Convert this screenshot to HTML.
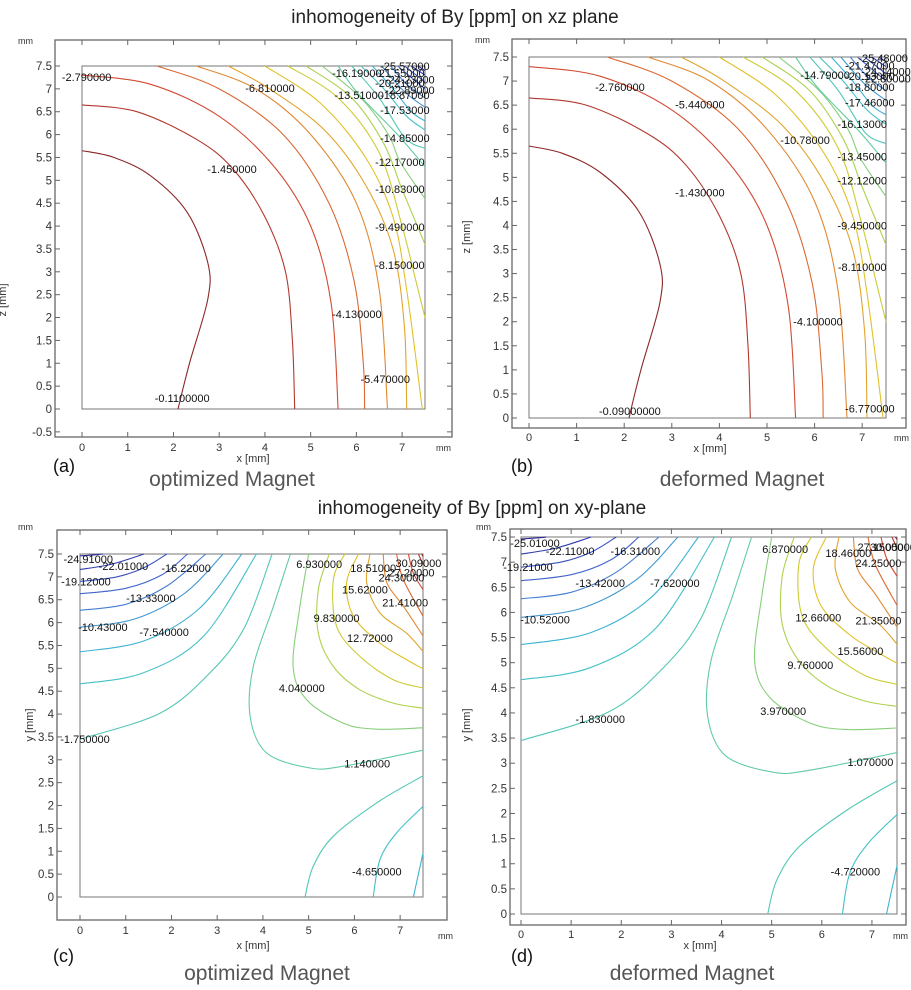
<!DOCTYPE html>
<html><head><meta charset="utf-8">
<style>
html,body{margin:0;padding:0;background:#fff;}
svg{display:block;font-family:"Liberation Sans",sans-serif;}
</style></head>
<body>
<svg id="fig" width="911" height="990" viewBox="0 0 911 990" xmlns="http://www.w3.org/2000/svg">
<text x="455" y="23" text-anchor="middle" font-size="19" fill="#222">inhomogeneity of By [ppm] on xz plane</text>
<text x="482" y="514" text-anchor="middle" font-size="19" fill="#222">inhomogeneity of By [ppm] on xy-plane</text>
<text x="53" y="472" font-size="18" fill="#111">(a)</text>
<text x="232" y="486" text-anchor="middle" font-size="21" fill="#555">optimized Magnet</text>
<text x="511" y="472" font-size="18" fill="#111">(b)</text>
<text x="742" y="486" text-anchor="middle" font-size="21" fill="#555">deformed Magnet</text>
<text x="53" y="962" font-size="18" fill="#111">(c)</text>
<text x="267" y="980" text-anchor="middle" font-size="21" fill="#555">optimized Magnet</text>
<text x="511" y="962" font-size="18" fill="#111">(d)</text>
<text x="692" y="980" text-anchor="middle" font-size="21" fill="#555">deformed Magnet</text>
</svg>
<script>
// ---------- data: xz plane (a) ----------
const levelsA = [-0.11,-1.45,-2.79,-4.13,-5.47,-6.81,-8.15,-9.49,-10.83,-12.17,-13.51,-14.85,-16.19,-17.53,-18.87,-20.21,-21.55,-22.89,-24.23,-25.57];
const contoursA = [
 [[0,5.65],[0.7,5.5],[1.5,5.1],[2.3,4.3],[2.75,3.2],[2.75,2.4],[2.35,1],[2.1,0]],
 [[0,6.65],[1.2,6.5],[2.5,5.9],[3.3,5.25],[4.0,4.2],[4.45,3],[4.6,1.5],[4.65,0]],
 [[0,7.3],[1.5,7.1],[3,6.4],[4.2,5.3],[5,4],[5.45,2.3],[5.6,0]],
 [[1.64,7.5],[3,7],[4.4,6],[5.4,4.5],[5.95,2.8],[6.15,1],[6.18,0]],
 [[2.5,7.5],[3.8,7.0],[5.0,6.0],[6.0,4.5],[6.5,2.6],[6.68,0]],
 [[3.2,7.5],[4.1,7.0],[5.3,6.1],[6.2,4.9],[6.8,3.5],[7.05,1.8],[7.1,0]],
 [[4.0,7.5],[5.2,6.7],[6.2,5.5],[6.8,4.2],[7.1,2.6],[7.44,0]],
 [[4.5,7.5],[5.6,6.8],[6.5,5.6],[7.0,4.0],[7.3,2.8],[7.5,2.0]],
 [[4.9,7.5],[5.9,6.8],[6.6,5.8],[7.0,4.8],[7.5,3.6]],
 [[5.25,7.5],[6.1,6.8],[6.7,6.0],[6.96,5.4],[7.5,4.6]],
 [[5.6,7.5],[6.06,6.87],[6.9,6.0],[7.5,5.3]],
 [[5.9,7.5],[6.5,6.8],[7.06,5.93],[7.5,5.7]],
 [[6.1,7.5],[6.6,7.0],[7.1,6.4],[7.5,6.1]],
 [[6.35,7.5],[6.8,7.0],[7.2,6.5],[7.5,6.3]],
 [[6.55,7.5],[7.06,6.93],[7.5,6.6]],
 [[6.75,7.5],[7.1,7.1],[7.5,6.8]],
 [[6.9,7.5],[7.5,7.0]],
 [[7.05,7.5],[7.5,7.15]],
 [[7.2,7.5],[7.5,7.3]],
 [[7.35,7.5],[7.5,7.4]]
];
const labelsA = [
 ["-2.790000",0.1,7.26],["-6.810000",4.11,7.02],["-1.450000",3.28,5.25],["-4.130000",6.01,2.08],
 ["-5.470000",6.63,0.66],["-0.1100000",2.19,0.24],["-8.150000",6.95,3.15],["-9.490000",6.95,3.98],
 ["-10.83000",6.95,4.81],["-12.17000",6.95,5.4],["-14.85000",7.06,5.93],["-17.53000",7.06,6.54],
 ["-13.51000",6.06,6.87],["-18.87000",7.06,6.87],["-16.19000",6.01,7.35],["-21.55000",6.95,7.35],
 ["-20.21000",6.95,7.13],["-25.57000",7.06,7.5],["-24.23000",7.17,7.2],["-22.89000",7.17,6.98]
];
// ---------- data: xz plane (b) ----------
const levelsB = [-0.09,-1.43,-2.76,-4.10,-5.44,-6.77,-8.11,-9.45,-10.78,-12.12,-13.45,-14.79,-16.13,-17.46,-18.80,-20.13,-21.47,-22.80,-24.14,-25.48];
const contoursB = contoursA;
const labelsB = [
 ["-2.760000",1.91,6.88],["-5.440000",3.59,6.51],["-1.430000",3.59,4.68],["-4.100000",6.07,2.0],
 ["-0.09000000",2.12,0.15],["-6.770000",7.16,0.2],["-8.110000",7.0,3.14],["-9.450000",7.0,4.0],
 ["-12.12000",7.0,4.93],["-10.78000",5.8,5.78],["-13.45000",7.0,5.43],["-16.13000",7.0,6.11],
 ["-17.46000",7.16,6.55],["-18.80000",7.16,6.88],["-14.79000",6.22,7.13],["-21.47000",7.16,7.32],
 ["-20.13000",7.16,7.11],["-25.48000",7.44,7.48],["-24.14000",7.5,7.2],["-22.80000",7.5,7.05]
];
// ---------- data: xy plane (c) ----------
const levelsC = [-24.91,-22.01,-19.12,-16.22,-13.33,-10.43,-7.54,-4.65,-1.75,1.14,4.04,6.93,9.83,12.72,15.62,18.51,21.41,24.30,27.20,30.09,-1.75,-4.65,-7.54];
const contoursC = [
 [[0,7.46],[0.3,7.48],[0.5,7.5]],
 [[0,7.16],[0.7,7.28],[1.4,7.5]],
 [[0,6.90],[0.8,7.0],[1.4,7.2],[1.9,7.5]],
 [[0,6.63],[1.0,6.75],[1.8,7.05],[2.35,7.5]],
 [[0,6.27],[1.0,6.4],[1.9,6.8],[2.75,7.5]],
 [[0,5.90],[1.2,6.08],[2.3,6.65],[3.13,7.5]],
 [[0,5.36],[1.4,5.6],[2.6,6.3],[3.54,7.5]],
 [[0,4.66],[1.38,4.90],[2.70,5.70],[3.86,7.5]],
 [[0,3.45],[1.75,4.02],[2.84,4.90],[3.6,5.9],[4.2,7.5]],
 [[4.6,7.5],[4.23,6.36],[3.79,5.04],[3.72,3.95],[4.08,3.15],[5.03,2.82],[5.76,2.86],[7.5,3.21]],
 [[5.0,7.5],[4.81,6.36],[4.66,5.04],[4.96,4.31],[5.76,3.80],[6.49,3.67],[7.5,3.70]],
 [[5.45,7.5],[5.21,6.72],[5.21,5.77],[5.54,5.04],[6.12,4.53],[6.85,4.24],[7.5,4.13]],
 [[5.79,7.5],[5.54,6.94],[5.61,5.92],[6.12,5.26],[6.85,4.75],[7.5,4.57]],
 [[6.09,7.5],[5.83,6.87],[5.98,6.14],[6.56,5.55],[7.14,5.19],[7.5,4.99]],
 [[6.34,7.5],[6.27,6.87],[6.56,6.21],[7.14,5.77],[7.5,5.37]],
 [[6.63,7.5],[6.71,6.87],[7.07,6.36],[7.5,5.71]],
 [[6.92,7.5],[7.07,6.94],[7.5,6.14]],
 [[7.18,7.5],[7.29,7.08],[7.5,6.72]],
 [[7.40,7.5],[7.5,7.27]],
 [[7.47,7.5],[7.5,7.45]],
 [[7.5,2.65],[6.49,2.06],[5.54,1.33],[5.10,0.67],[4.92,0]],
 [[7.5,1.98],[6.92,1.40],[6.56,0.82],[6.41,0]],
 [[7.5,0.96],[7.29,0]]
];
const labelsC = [
 ["-24.91000",0.18,7.39],["-22.01000",0.95,7.24],["-16.22000",2.32,7.19],["-19.12000",0.13,6.90],
 ["-13.33000",1.55,6.54],["-10.43000",0.50,5.90],["-7.540000",1.84,5.79],["-1.750000",0.11,3.45],
 ["6.930000",5.23,7.28],["18.51000",6.41,7.19],["30.09000",7.40,7.30],["27.20000",7.25,7.10],
 ["24.30000",7.03,6.99],["15.62000",6.23,6.72],["21.41000",7.11,6.44],["9.830000",5.61,6.10],
 ["12.72000",6.34,5.66],["4.040000",4.85,4.57],["1.140000",6.28,2.92],["-4.650000",6.49,0.56]
];
// ---------- data: xy plane (d) ----------
const levelsD = [-25.01,-22.11,-19.21,-16.31,-13.42,-10.52,-7.62,-4.72,-1.83,1.07,3.97,6.87,9.76,12.66,15.56,18.46,21.35,24.25,27.15,30.05,-1.83,-4.72,-7.62];
const contoursD = contoursC;
const labelsD = [
 ["-25.01000",0.28,7.38],["-22.11000",0.98,7.22],["-16.31000",2.28,7.22],["-19.21000",0.14,6.9],
 ["-13.42000",1.58,6.58],["-7.620000",3.07,6.58],["-10.52000",0.48,5.86],["-1.830000",1.58,3.88],
 ["3.970000",5.23,4.04],["1.070000",6.97,3.02],["-4.720000",6.67,0.85],["6.870000",5.27,7.26],
 ["18.46000",6.53,7.18],["27.15000",7.17,7.3],["30.05000",7.42,7.3],["24.25000",7.13,6.98],
 ["12.66000",5.93,5.9],["21.35000",7.13,5.84],["15.56000",6.77,5.23],["9.760000",5.77,4.95]
];
// ---------- tick labels ----------
const xTicks = [0,1,2,3,4,5,6,7];
const yTicksA = [-0.5,0,0.5,1,1.5,2,2.5,3,3.5,4,4.5,5,5.5,6,6.5,7,7.5];
const yTicksB = [0,0.5,1,1.5,2,2.5,3,3.5,4,4.5,5,5.5,6,6.5,7,7.5];

// ---------- rendering ----------
const NS = "http://www.w3.org/2000/svg";
const svg = document.getElementById('fig');
function mk(tag, attrs, parent){const e=document.createElementNS(NS,tag);for(const k in attrs)e.setAttribute(k,attrs[k]);(parent||svg).appendChild(e);return e;}
const stops=[[0,[40,40,160]],[0.18,[70,110,210]],[0.34,[60,190,210]],[0.48,[100,205,160]],[0.6,[190,210,60]],[0.68,[225,195,40]],[0.8,[225,130,50]],[0.9,[210,70,50]],[1,[140,40,40]]];
function cmap(t){t=Math.max(0,Math.min(1,t));for(let i=1;i<stops.length;i++){if(t<=stops[i][0]){const a=stops[i-1],b=stops[i];const f=(t-a[0])/(b[0]-a[0]);const c=a[1].map((v,j)=>Math.round(v+(b[1][j]-v)*f));return `rgb(${c[0]},${c[1]},${c[2]})`;}}return 'rgb(140,40,40)';}
function smooth(pts){let d=`M${pts[0][0].toFixed(1)},${pts[0][1].toFixed(1)}`;for(let i=0;i<pts.length-1;i++){const p0=pts[Math.max(0,i-1)],p1=pts[i],p2=pts[i+1],p3=pts[Math.min(pts.length-1,i+2)];const c1=[p1[0]+(p2[0]-p0[0])/6,p1[1]+(p2[1]-p0[1])/6],c2=[p2[0]-(p3[0]-p1[0])/6,p2[1]-(p3[1]-p1[1])/6];d+=`C${c1[0].toFixed(1)},${c1[1].toFixed(1)} ${c2[0].toFixed(1)},${c2[1].toFixed(1)} ${p2[0].toFixed(1)},${p2[1].toFixed(1)}`;}return d;}

function panel(id,L,levels,contours,labels,yTicks,ytitle){
  const g=mk('g',{});
  
  
  const sx=v=>L.px0+(v)*(L.px1-L.px0)/7.5;
  const sy=v=>L.py0-(v)*(L.py0-L.py1)/7.5;
  const [fl,ft,fr,fb]=L.frame;
  const fr_=mk('rect',{x:fl,y:ft,width:fr-fl,height:fb-ft,fill:'none',stroke:'#666','stroke-width':1.3},g);
  
  
  xTicks.forEach(v=>{const x=sx(v);
    mk('line',{x1:x,y1:fb,x2:x,y2:fb-5,stroke:'#666'},g);mk('line',{x1:x,y1:ft,x2:x,y2:ft+5,stroke:'#666'},g);
    const t=mk('text',{x:x,y:L.xly,'text-anchor':'middle','font-size':11,fill:'#333'},g);t.textContent=v;
    
    });
  yTicks.forEach(v=>{const y=sy(v);
    mk('line',{x1:fl,y1:y,x2:fl+5,y2:y,stroke:'#666'},g);mk('line',{x1:fr,y1:y,x2:fr-5,y2:y,stroke:'#666'},g);
    const t=mk('text',{x:fl-3,y:y+4,'text-anchor':'end','font-size':11.5,fill:'#333'},g);t.textContent=v;
    
    });
  const box=mk('rect',{x:sx(0),y:sy(7.5),width:sx(7.5)-sx(0),height:sy(0)-sy(7.5),fill:'none',stroke:'#777','stroke-width':1},g);
  
  
  const mn=Math.min(...levels),mx=Math.max(...levels);
  contours.forEach((c,i)=>{const p=mk('path',{d:smooth(c.map(q=>[sx(q[0]),sy(q[1])])),fill:'none',stroke:cmap((levels[i]-mn)/(mx-mn)),'stroke-width':1.1},g);
    
    });
  labels.forEach(l=>{const t=mk('text',{x:sx(l[1]),y:sy(l[2])+4,'text-anchor':'middle','font-size':11,fill:'#111'},g);t.textContent=l[0];
    
    });
  const xt=mk('text',{x:L.xt[0],y:L.xt[1],'text-anchor':'middle','font-size':11,fill:'#333'},g);xt.textContent='x [mm]';
  
  
  const yt=mk('text',{x:L.yt[0],y:L.yt[1],'text-anchor':'middle','font-size':11,fill:'#333',transform:`rotate(-90 ${L.yt[0]} ${L.yt[1]})`},g);yt.textContent=ytitle;
  
  
  const m1=mk('text',{x:L.mm1[0],y:L.mm1[1],'font-size':9,fill:'#333'},g);m1.textContent='mm';
  
  
  const m2=mk('text',{x:L.mm2[0],y:L.mm2[1],'font-size':9,fill:'#333'},g);m2.textContent='mm';
  
  
}
panel('a',{frame:[55,40,452,437],px0:82,px1:425,py0:409,py1:66,xly:451,xt:[253,462],yt:[6,300],mm1:[18,44],mm2:[436,451]},levelsA,contoursA,labelsA,yTicksA,'z [mm]');
panel('b',{frame:[512,39,906,428],px0:529,px1:886,py0:418,py1:57,xly:441,xt:[710,452],yt:[470,237],mm1:[475,43],mm2:[894,441]},levelsB,contoursB,labelsB,yTicksB,'z [mm]');
panel('c',{frame:[57,530,447,920],px0:80,px1:423,py0:897,py1:554,xly:934,xt:[253,949],yt:[33,725],mm1:[18,530],mm2:[438,939]},levelsC,contoursC,labelsC,yTicksB,'y [mm]');
panel('d',{frame:[510,529,906,925],px0:521,px1:897,py0:914,py1:537,xly:938,xt:[700,949],yt:[470,725],mm1:[476,530],mm2:[893,939]},levelsD,contoursD,labelsD,yTicksB,'y [mm]');
</script>
</body></html>
